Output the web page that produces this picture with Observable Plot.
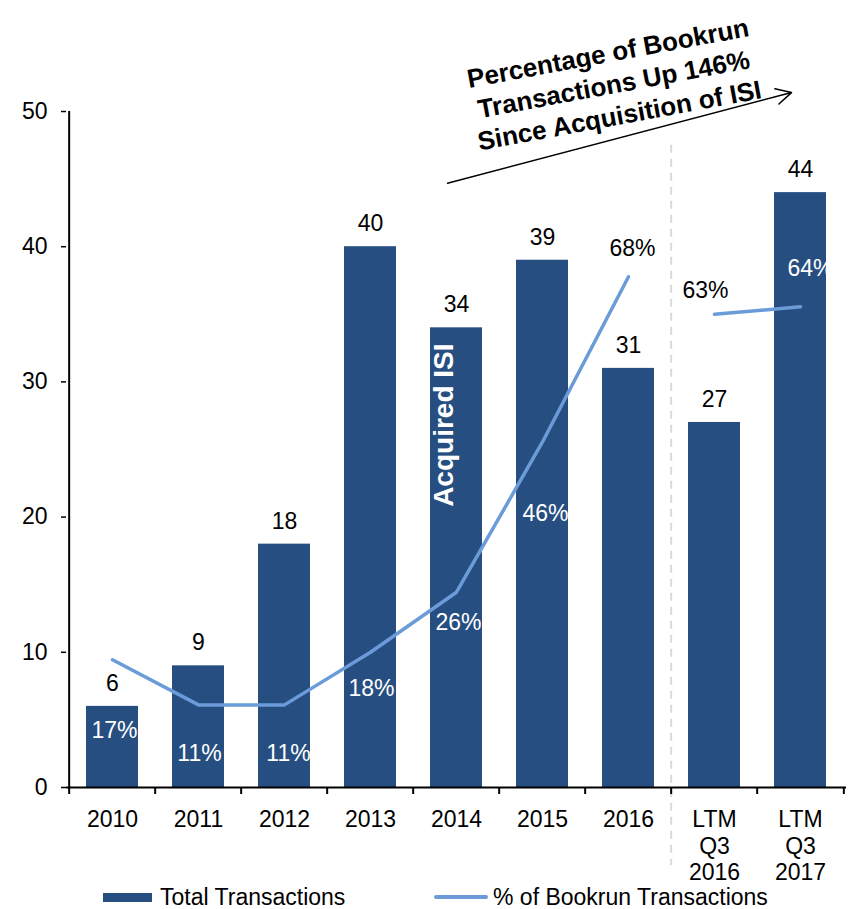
<!DOCTYPE html>
<html>
<head>
<meta charset="utf-8">
<script src="https://cdn.jsdelivr.net/npm/d3@7"></script>
<script src="https://cdn.jsdelivr.net/npm/@observablehq/plot@0.6"></script>
<style>
  body { margin: 0; background: #fff; font-family: "Liberation Sans", Arial, sans-serif; }
  #wrap { position: relative; width: 860px; height: 909px; }
  .lg { position: absolute; font-size: 23px; color: #000; line-height: 21px; white-space: nowrap; }
</style>
</head>
<body>
<div id="wrap">
  <div id="chart"></div>
  <div class="lg" style="left:103px; top:893px; width:49px; height:9px; background:#264e80;"></div>
  <div class="lg" style="left:160px; top:887px;">Total Transactions</div>
  <div class="lg" style="left:434px; top:895px; width:54px; height:4px; background:#6b9bd8; border-radius:2px;"></div>
  <div class="lg" style="left:493px; top:887px;">% of Bookrun Transactions</div>
</div>
<script>
// ---- data ----
const categories = ["2010", "2011", "2012", "2013", "2014", "2015", "2016", "LTM Q3 2016", "LTM Q3 2017"];
const tickLabels = ["2010", "2011", "2012", "2013", "2014", "2015", "2016", "LTM\nQ3\n2016", "LTM\nQ3\n2017"];
const totalTransactions = [6, 9, 18, 40, 34, 39, 31, 27, 44];
const bookrunPct = [17, 11, 11, 18, 26, 46, 68, 63, 64];
const lineGroups = ["annual", "annual", "annual", "annual", "annual", "annual", "annual", "ltm", "ltm"];
const yTicks = [0, 10, 20, 30, 40, 50];
const pctAxisMax = 90;   // hidden secondary axis 0–90%
const leftAxisMax = 50;

// ---- styling (label offsets in px, colours) ----
const pctLabelOffset = [[2, 71], [1, 49], [4, 49], [1, 36], [2, 30], [3, 72], [4, -28], [-9, -24], [10, -38]];
const pctLabelFill = ["white", "white", "white", "white", "white", "white", "black", "black", "white"];

const data = categories.map((c, i) => ({
  cat: c, total: totalTransactions[i], pct: bookrunPct[i], group: lineGroups[i]
}));
const pctToLeft = p => p * leftAxisMax / pctAxisMax;

const W = 860, H = 878, mL = 66, mR = 14, mT = 111, mB = 91;
const step = (W - mL - mR) / categories.length;
const BAR = "#264e80", LINE = "#6b9bd8";
const FS = 23;

const chart = Plot.plot({
  width: W, height: H,
  marginLeft: mL, marginRight: mR, marginTop: mT, marginBottom: mB,
  style: { fontFamily: "Liberation Sans, Arial, sans-serif", fontSize: FS + "px", color: "#000", background: "white", overflow: "visible" },
  x: { type: "band", domain: categories, paddingInner: 0.39, paddingOuter: 0.195 },
  y: { domain: [0, leftAxisMax] },
  marks: [
    // dashed separator between annual and LTM
    Plot.ruleX([categories[7]], { x: d => d, y1: 47.5, y2: 0, insetBottom: -78, dx: -step / 2,
      stroke: "#d9d9d9", strokeWidth: 2, strokeDasharray: "8,6" }),
    Plot.barY(data, { x: "cat", y: "total", fill: BAR }),
    Plot.line(data, { x: "cat", y: d => pctToLeft(d.pct), z: "group", curve: "linear",
      stroke: LINE, strokeWidth: 3.5 }),
    Plot.text(data, { x: "cat", y: "total", text: d => String(d.total), dy: -23, fontSize: FS, fill: "black" }),
    ...data.map((d, i) => Plot.text([d], { x: "cat", y: dd => pctToLeft(dd.pct), text: dd => dd.pct + "%",
      dx: pctLabelOffset[i][0], dy: pctLabelOffset[i][1], fontSize: FS, fill: pctLabelFill[i] })),
    // axes lines and ticks
    Plot.ruleY([0], { stroke: "black", strokeWidth: 2 }),
    Plot.ruleX([categories[0]], { x: d => d, y1: 0, y2: leftAxisMax, dx: -step / 2, stroke: "black", strokeWidth: 2 }),
    Plot.ruleX(categories, { x: d => d, y1: 0, y2: 0, insetBottom: -7, dx: -step / 2, stroke: "black", strokeWidth: 2 }),
    Plot.ruleX([categories[categories.length - 1]], { x: d => d, y1: 0, y2: 0, insetBottom: -7, dx: step / 2, stroke: "black", strokeWidth: 2 }),
    Plot.axisY({ ticks: yTicks, tickSize: 5, tickPadding: 14, fontSize: FS, label: null, strokeWidth: 1.5 }),
    Plot.axisX({ tickSize: 0, tickPadding: 20, fontSize: FS, label: null, lineHeight: 1.17,
      tickFormat: d => tickLabels[categories.indexOf(d)] }),
    // annotations
    Plot.text(["Acquired ISI"], { x: () => categories[4], y: () => 26.8, text: d => d, rotate: -90, dx: -12,
      fill: "white", fontWeight: "bold", fontSize: 28 }),
    Plot.arrow([0], { x1: () => categories[4], y1: () => 44.7, x2: () => categories[8], y2: () => 51.4, dx: -9,
      stroke: "black", strokeWidth: 1.5, headLength: 17, headAngle: 55 }),
    Plot.text(["Percentage of Bookrun\nTransactions Up 146%\nSince Acquisition of ISI"], {
      x: () => categories[6], y: () => 52.1, text: d => d, dx: -15, rotate: -10.5,
      fontWeight: "bold", fontSize: 26, lineHeight: 1.22, fill: "black" })
  ]
});
document.getElementById("chart").appendChild(chart);
</script>
</body>
</html>
